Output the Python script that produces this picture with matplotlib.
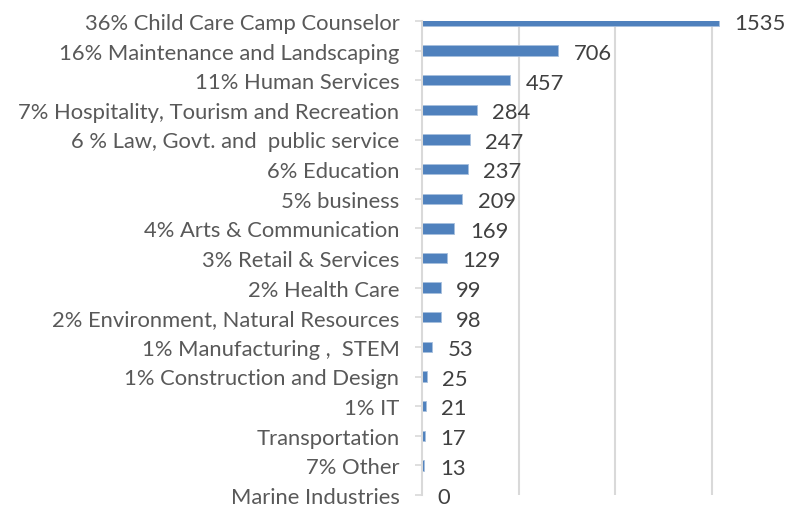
import matplotlib.pyplot as plt

plt.rcParams['font.family'] = ['Lato', 'DejaVu Sans']

categories = [
    "36% Child Care Camp Counselor",
    "16% Maintenance and Landscaping",
    "11% Human Services",
    "7% Hospitality, Tourism and Recreation",
    "6 % Law, Govt. and  public service",
    "6% Education",
    "5% business",
    "4% Arts & Communication",
    "3% Retail & Services",
    "2% Health Care",
    "2% Environment, Natural Resources",
    "1% Manufacturing ,  STEM",
    "1% Construction and Design",
    "1% IT",
    "Transportation",
    "7% Other",
    "Marine Industries",
]
values = [1535, 706, 457, 284, 247, 237, 209, 169, 129, 99, 98, 53, 25, 21, 17, 13, 0]

fig = plt.figure(figsize=(8.04, 5.06), dpi=100)
# plot area is cropped at the top and the right in the original
ax = fig.add_axes([421.7 / 804, 1 - 496 / 506, (809 - 421.7) / 804, (496 - 22) / 506])

pos = list(range(len(categories)))
ax.barh(pos, values, height=0.35, color='#4F81BD', edgecolor='#A7BFDE', linewidth=0.6, zorder=2)

for p, v in zip(pos, values):
    ax.text(v + 80, p + 0.08, str(v), va='center', ha='left', fontsize=15.8, color='#404040', clip_on=False)

ax.set_xlim(0, 2000)
ax.set_ylim(len(categories) - 1, 0)
ax.set_xticks([500, 1000, 1500])
ax.set_yticks(pos)
ax.set_yticklabels(categories, fontsize=15.8, color='#595959')
ax.xaxis.grid(True, color='#D9D9D9', linewidth=1.5, zorder=0)
ax.set_axisbelow(True)
ax.tick_params(axis='x', length=0, labelbottom=False)
ax.tick_params(axis='y', length=5, width=1.2, color='#D9D9D9', pad=11)

for s in ['top', 'right', 'bottom']:
    ax.spines[s].set_visible(False)
ax.spines['left'].set_color('#D9D9D9')
ax.spines['left'].set_linewidth(1.5)

plt.savefig('out.png', dpi=100)
